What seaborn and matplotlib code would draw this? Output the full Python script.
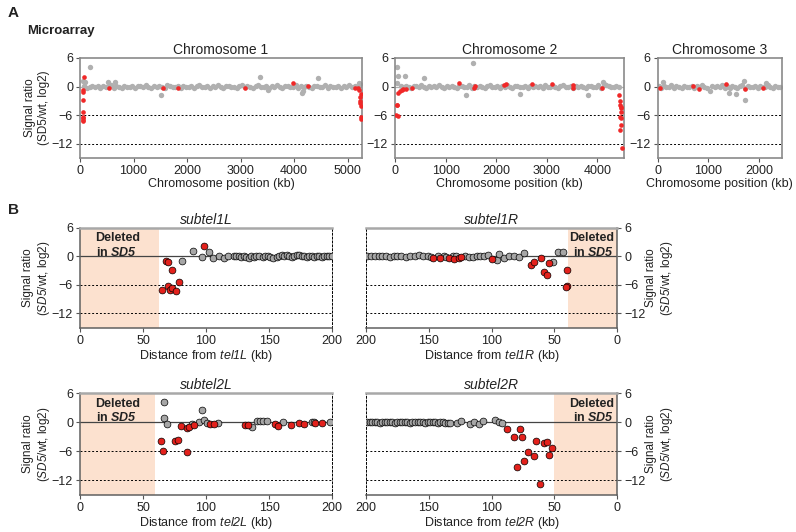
import numpy as np
import pandas as pd
import matplotlib
matplotlib.use("Agg")
import matplotlib.pyplot as plt
import seaborn as sns

# ---------------- data : panel A (microarray, kb / log2 ratio) ----------------
chr1_band_x = [80, 130, 180, 230, 280, 330, 380, 430, 480, 530,
               580, 630, 680, 730, 780, 830, 880, 930, 980, 1030,
               1080, 1130, 1180, 1230, 1280, 1330, 1380, 1430, 1480, 1530,
               1580, 1630, 1680, 1730, 1780, 1830, 1880, 1930, 1980, 2030,
               2080, 2130, 2180, 2230, 2280, 2330, 2380, 2430, 2480, 2530,
               2580, 2630, 2680, 2730, 2780, 2830, 2880, 2930, 2980, 3030,
               3080, 3130, 3180, 3230, 3280, 3330, 3380, 3430, 3480, 3530,
               3580, 3630, 3680, 3730, 3780, 3830, 3880, 3930, 3980, 4030,
               4080, 4130, 4180, 4230, 4280, 4330, 4380, 4430, 4480, 4530,
               4580, 4630, 4680, 4730, 4780, 4830, 4880, 4930, 4980, 5030,
               5080, 5130, 5180, 5230]
chr1_band_y = [0.1, -0.2, 0.0, 0.2, -0.1, 0.1, -0.3, 0.2, 0.0, -0.1,
               0.3, -0.2, 0.1, 0.0, -0.2, 0.2, -0.1, 0.0, 0.1, -0.3,
               0.2, 0.1, -0.1, 0.3, 0.0, -0.2, 0.1, -0.1, 0.2, 0.0,
               -0.2, 0.4, 0.1, -0.1, 0.0, 0.2, -0.3, 0.1, 0.0, -0.1,
               0.2, -0.2, 0.1, 0.3, -0.1, 0.0, 0.2, -0.2, 0.1, -0.1,
               0.3, 0.0, -0.2, 0.1, 0.2, -0.1, 0.0, -0.3, 0.1, 0.4,
               -0.1, 0.2, 0.0, -0.2, 0.1, 0.3, -0.1, 0.0, 0.2, -0.2,
               0.1, -0.1, 0.3, 0.0, -0.2, 0.1, 0.2, -0.1, 0.0, 0.3,
               -0.2, 0.1, -0.1, 0.2, 0.0, -0.3, 0.1, 0.2, -0.1, 0.0,
               0.3, -0.2, 0.1, 0.0, -0.1, 0.2, -0.2, 0.1, 0.0, 0.3,
               -0.1, 0.2, 0.0, 0.5]
chr1_out_x = [187, 65, 90, 517, 654, 1514, 3364, 3520, 4155, 4174, 4455, 5221]
chr1_out_y = [4.1, 1.2, 0.9, 1.0, 1.0, -1.7, 2.1, -0.8, -1.3, -1.0, 1.8, 0.8]
chr1_red_x = [55, 57, 56, 58, 55, 57, 58, 56, 81, 548, 1557, 1838, 3080, 3988, 4268,
              5146, 5190, 5221, 5246, 5230, 5240, 5235, 5250, 5245, 5255]
chr1_red_y = [-0.8, -1.2, -2.9, -5.3, -6.3, -6.7, -7.0, -7.3, 2.1, -0.4, -0.3, -0.3, -0.2, 0.8, 0.2,
              -0.4, -0.4, -0.8, -1.6, -2.2, -3.0, -3.5, -4.0, -6.3, -6.8]

chr2_band_x = [120, 170, 220, 270, 320, 370, 420, 470, 520, 570,
               620, 670, 720, 770, 820, 870, 920, 970, 1020, 1070,
               1120, 1170, 1220, 1270, 1320, 1370, 1420, 1470, 1520, 1570,
               1620, 1670, 1720, 1770, 1820, 1870, 1920, 1970, 2020, 2070,
               2120, 2170, 2220, 2270, 2320, 2370, 2420, 2470, 2520, 2570,
               2620, 2670, 2720, 2770, 2820, 2870, 2920, 2970, 3020, 3070,
               3120, 3170, 3220, 3270, 3320, 3370, 3420, 3470, 3520, 3570,
               3620, 3670, 3720, 3770, 3820, 3870, 3920, 3970, 4020, 4070,
               4120, 4170, 4220, 4270, 4320, 4370, 4420]
chr2_band_y = [0.2, -0.1, 0.1, 0.0, -0.2, 0.2, 0.1, -0.1, 0.3, 0.0,
               -0.2, 0.1, 0.0, 0.2, -0.1, 0.3, 0.0, -0.2, 0.1, -0.1,
               0.2, 0.0, -0.3, 0.1, 0.2, -0.1, 0.0, 0.3, -0.2, 0.1,
               -0.1, 0.2, 0.0, -0.2, 0.1, 0.3, -0.1, 0.0, 0.2, -0.2,
               0.1, -0.1, 0.3, 0.0, -0.2, 0.1, 0.2, -0.1, 0.0, 0.2,
               -0.3, 0.1, 0.0, 0.2, -0.1, 0.1, -0.2, 0.3, 0.0, -0.1,
               0.2, 0.0, -0.2, 0.1, 0.3, -0.1, 0.0, 0.2, -0.2, 0.1,
               -0.1, 0.2, 0.0, -0.3, 0.1, 0.2, -0.1, 0.0, 0.3, -0.2,
               0.6, 0.4, 0.1, -0.1, 0.0, 0.2, -0.1]
chr2_out_x = [46, 66, 198, 580, 1535, 1397, 2470, 3820, 4104, 46]
chr2_out_y = [4.1, 2.3, 2.3, 1.7, 5.0, -1.7, -1.5, -1.7, 1.0, 0.7]
chr2_red_x = [40, 46, 20, 60, 66, 99, 132, 165, 217, 329, 1265, 1560, 1580, 2150, 2200,
              2700, 3097, 3525, 3525, 4084, 4433, 4446, 4452, 4470, 4460, 4475, 4440,
              4468, 4458, 4445, 4480]
chr2_red_y = [-3.8, -3.8, -6.0, -6.1, -1.3, -1.0, -0.7, -0.5, -0.5, -0.3, 0.7, -0.3, 0.2, 0.3, 0.5,
              0.5, 0.6, 0.3, -0.4, -0.2, -1.7, -3.1, -3.8, -4.3, -4.5, -5.4, -6.3,
              -6.6, -8.1, -9.2, -12.8]

chr3_band_x = [20, 70, 120, 170, 220, 270, 320, 370, 420, 470,
               520, 570, 620, 670, 720, 770, 820, 870, 920, 970,
               1070, 1120, 1170, 1220, 1270, 1320, 1370, 1420, 1470, 1520,
               1570, 1620, 1670, 1720, 1770, 1820, 1870, 1920, 1970, 2020,
               2070, 2120, 2170, 2220, 2270, 2320, 2370, 2420]
chr3_band_y = [0.1, -0.2, 0.2, 0.0, -0.1, 0.3, -0.2, 0.1, 0.0, -0.3,
               0.2, -0.1, 0.0, 0.2, -0.2, 0.1, -0.1, 0.3, 0.0, -0.2,
               0.1, -0.1, 0.2, 0.0, 0.3, -0.2, 0.1, -0.3, 0.2, 0.0,
               -0.4, 0.1, 0.4, -0.3, 0.2, -0.1, 0.0, 0.1, -0.2, 0.2,
               0.0, -0.1, 0.3, 0.0, -0.2, 0.1, 0.0, -0.1]
chr3_out_x = [111, 1692, 1712, 1396, 1541, 1034, 2140]
chr3_out_y = [1.0, 1.2, -2.8, -1.3, -1.5, -1.0, 0.8]
chr3_red_x = [45, 704, 822, 1344, 1725, 2068]
chr3_red_y = [-0.3, 0.2, -0.5, 0.5, -0.5, -0.3]

# ---------------- data : panel B (subtelomeres, kb from telomere) ----------------
sub1L_gray_x = [80.7, 90, 96.6, 102, 105.8, 110.2, 114.1, 117.8,
                122, 124, 126, 128, 130, 132, 134, 136, 138, 140,
                142, 145, 147, 149, 151, 153, 156, 158, 160, 162,
                164, 166, 168, 170, 172, 174, 176, 178, 180, 182,
                184, 186, 188, 190, 192, 194, 196, 198, 200]
sub1L_gray_y = [-1.0, 1.2, -0.1, 0.9, -0.3, 0.0, -0.3, 0.0,
                0.1, 0.0, 0.0, -0.2, 0.0, -0.1, -0.3, 0.0, -0.1, 0.0,
                0.0, -0.2, 0.0, 0.0, -0.1, -0.3, -0.2, 0.0, 0.3, 0.1,
                0.2, 0.0, -0.2, 0.1, 0.3, 0.2, 0.0, 0.1, -0.1, 0.0,
                0.1, -0.1, 0.0, 0.0, -0.1, 0.0, 0.0, 0.1, 0.0]
sub1L_red_x = [65.3, 68.5, 69.6, 70.1, 71.4, 72.8, 73.3, 76.2, 78.6, 98.4]
sub1L_red_y = [-7.0, -1.0, -6.3, -1.3, -7.0, -2.8, -6.6, -7.2, -5.3, 2.1]

sub1R_gray_x = [199, 196, 193, 190, 187, 184, 181, 178, 175, 172,
                168, 165, 161, 158, 155, 151, 148, 143, 138, 136,
                131, 128, 121, 118, 115, 112, 109, 106, 103, 96,
                94, 90, 86, 82, 78.2, 74.5, 50.9, 47.5, 43.5]
sub1R_gray_y = [0.0, 0.1, 0.0, 0.0, 0.1, 0.0, -0.1, 0.0, 0.1, 0.0,
                -0.1, 0.0, 0.0, 0.2, 0.1, 0.0, -0.1, 0.0, 0.1, -0.1,
                0.0, 0.1, 0.0, -0.1, -0.1, 0.0, 0.0, 0.1, 0.3, -0.8,
                0.4, -0.3, 0.1, 0.1, -0.2, 0.6, -1.3, 1.0, 1.0]
sub1R_red_x = [146.4, 141, 134, 129.6, 126, 124.4, 100, 68.7, 66.3, 61, 58.3, 56.2, 54.1,
               40.3, 40.3, 40.5]
sub1R_red_y = [-0.3, -0.3, -0.3, -0.6, -0.4, -0.2, -0.5, -1.8, -1.2, -0.4, -3.3, -3.9, -1.4,
               -2.8, -6.2, -6.5]

sub2L_gray_x = [66.7, 66.7, 68.8, 88.6, 94.7, 96.6, 98.4, 100.5, 109.8, 136.8,
                140.2, 142.9, 145.5, 148.2, 160.8, 183.9, 186, 198.4]
sub2L_gray_y = [4.2, 0.9, -0.3, -0.3, 0.1, 2.4, 0.5, -0.1, -0.2, -1.0,
                0.2, 0.2, 0.2, 0.2, 0.0, 0.0, 0.0, 0.0]
sub2L_red_x = [64, 65.6, 75.4, 78, 79.9, 84.7, 84.7, 86.3, 90.7, 103.2, 106.6,
               131, 133, 154.8, 156.9, 167.2, 173.8, 177.8, 186.5, 192.3]
sub2L_red_y = [-3.8, -6.0, -3.9, -3.6, -0.8, -1.3, -6.2, -1.0, -0.6, -0.3, -0.4,
               -0.6, -0.6, -0.4, -0.7, -0.6, -0.2, -0.4, -0.2, -0.1]

sub2R_gray_x = [199, 197, 195, 193, 191, 189, 187, 185, 183, 181,
                179, 177, 175, 173, 171, 169, 167, 165, 163, 161,
                159, 157, 155, 153, 151, 149, 147, 145, 143, 141,
                139, 137, 135, 133, 127.8, 124.4, 117.2, 113.8, 110, 106.6,
                97.3, 94.1, 92]
sub2R_gray_y = [0.0, 0.0, 0.1, 0.0, 0.0, -0.1, 0.0, 0.1, 0.0, 0.0,
                0.0, -0.1, 0.0, 0.0, 0.1, 0.0, 0.0, -0.1, 0.0, 0.0,
                0.1, 0.0, 0.0, -0.1, 0.0, 0.1, 0.0, 0.0, -0.1, 0.0,
                0.0, -0.1, -0.2, -0.2, -0.1, 0.3, -0.3, 0.0, -0.3, 0.2,
                0.4, 0.1, -0.2]
sub2R_red_x = [87.5, 77.4, 82, 75.6, 64.7, 58.1, 56.2, 51.7, 70.8, 66.3, 54.4, 74, 80, 61.3]
sub2R_red_y = [-1.5, -1.5, -3.1, -3.0, -3.9, -4.3, -4.1, -5.4, -6.2, -6.9, -6.8, -8.1, -9.2, -12.8]

deleted_kb = {"1L": 62.4, "1R": 39.5, "2L": 59.5, "2R": 50.6}

# ---------------- style ----------------
sns.set_style("ticks")
plt.rcParams['font.family'] = ['Liberation Sans', 'DejaVu Sans']
# mathtext only used for italic pieces inside labels: rm is mapped to the italic face
# so digits (tel1L, SD5) stay italic too
plt.rcParams['mathtext.fontset'] = 'custom'
plt.rcParams['mathtext.rm'] = 'Liberation Sans:italic'
plt.rcParams['mathtext.it'] = 'Liberation Sans:italic'
plt.rcParams['mathtext.bf'] = 'Liberation Sans:italic:bold'
plt.rcParams['mathtext.bfit'] = 'Liberation Sans:italic:bold'

GREY_A, RED_A = '#b0b0b0', '#f02828'
GREY_B, RED_B = '#a6a6a6', '#e3211c'
PEACH = '#fce1cf'
TXT = '#222222'

W, H = 796, 532
fig = plt.figure(figsize=(W / 100, H / 100), dpi=100)


def rect(l, t, r, b):
    return [l / W, 1 - b / H, (r - l) / W, (b - t) / H]


def guides(ax, zero_col):
    ax.axhline(0, color=zero_col, lw=0.9, zorder=1)
    for h in (-6, -12):
        ax.axhline(h, color='black', lw=0.7, ls=(0, (2, 2)), zorder=1)


def style_ticks(ax):
    ax.tick_params(length=3, width=0.8, color='#555555', labelsize=9, pad=2, labelcolor=TXT)


def chrom(box, title, xmax, xticks, bx, by, ox, oy, rx, ry):
    ax = fig.add_axes(rect(*box))
    guides(ax, '#b0b0b0')
    sns.scatterplot(x=bx + ox, y=by + oy, ax=ax, color=GREY_A, s=15, linewidth=0, zorder=2)
    sns.scatterplot(x=rx, y=ry, ax=ax, color=RED_A, s=11, linewidth=0, zorder=3)
    ax.set_xlim(0, xmax)
    ax.set_ylim(-15, 6)
    ax.set_xticks(xticks)
    ax.set_yticks([6, 0, -6, -12])
    for sp in ax.spines.values():
        sp.set_visible(True)
        sp.set_color('#8a8a8a')
        sp.set_linewidth(1.2)
    style_ticks(ax)
    ax.set_title(title, fontsize=10, pad=3, color=TXT)
    ax.set_xlabel('Chromosome position (kb)', fontsize=9, labelpad=1, color=TXT)
    ax.set_ylabel('')
    return ax


chrom((80, 58, 362, 158), 'Chromosome 1', 5270, [0, 1000, 2000, 3000, 4000, 5000],
      chr1_band_x, chr1_band_y, chr1_out_x, chr1_out_y, chr1_red_x, chr1_red_y)
chrom((395, 58, 624, 158), 'Chromosome 2', 4525, [0, 1000, 2000, 3000, 4000],
      chr2_band_x, chr2_band_y, chr2_out_x, chr2_out_y, chr2_red_x, chr2_red_y)
chrom((657.7, 58, 782, 158), 'Chromosome 3', 2450, [0, 1000, 2000],
      chr3_band_x, chr3_band_y, chr3_out_x, chr3_out_y, chr3_red_x, chr3_red_y)


def subtel(box, key, gx, gy, rx, ry):
    side = key[-1]
    ax = fig.add_axes(rect(*box))
    ax.axvspan(0, deleted_kb[key], color=PEACH, lw=0, zorder=0)
    guides(ax, '#444444')
    sns.scatterplot(x=gx, y=gy, ax=ax, color=GREY_B, s=24, edgecolor='black', linewidth=0.5, zorder=3)
    sns.scatterplot(x=rx, y=ry, ax=ax, color=RED_B, s=24, edgecolor='black', linewidth=0.5, zorder=4)
    ax.set_ylim(-15, 6)
    ax.set_yticks([6, 0, -6, -12])
    ax.set_xticks([0, 50, 100, 150, 200])
    for sp in ax.spines.values():
        sp.set_visible(True)
        sp.set_color('#606060')
        sp.set_linewidth(1.1)
    ax.spines['top'].set_color('#a8a8a8')
    ax.spines['top'].set_linewidth(1.8)
    far = 'right' if side == 'L' else 'left'
    ax.spines[far].set_color('black')
    ax.spines[far].set_linewidth(0.7)
    ax.spines[far].set_linestyle((0, (2, 2)))
    txt = 'Deleted\nin $\\mathbf{SD5}$'
    if side == 'L':
        ax.set_xlim(0, 200)
        ax.text(0.062, 0.955, txt, transform=ax.transAxes, ha='left', va='top',
                fontsize=9, fontweight='bold', color=TXT, linespacing=1.15, zorder=5)
    else:
        ax.set_xlim(200, 0)
        ax.yaxis.tick_right()
        ax.text(0.988, 0.955, txt, transform=ax.transAxes, ha='right', va='top',
                multialignment='right', fontsize=9, fontweight='bold', color=TXT,
                linespacing=1.15, zorder=5)
    style_ticks(ax)
    name = key[0] + key[1]
    ax.set_title('subtel' + name, fontsize=10, pad=3, color=TXT, fontstyle='italic')
    ax.set_xlabel('Distance from $\\mathrm{tel%s}$ (kb)' % name, fontsize=9, labelpad=1, color=TXT)
    ax.set_ylabel('')
    return ax


subtel((80, 227.7, 332, 327.7), '1L', sub1L_gray_x, sub1L_gray_y, sub1L_red_x, sub1L_red_y)
subtel((366, 227.7, 617.3, 327.7), '1R', sub1R_gray_x, sub1R_gray_y, sub1R_red_x, sub1R_red_y)
subtel((80, 393, 332, 495), '2L', sub2L_gray_x, sub2L_gray_y, sub2L_red_x, sub2L_red_y)
subtel((366, 393, 617.3, 495), '2R', sub2R_gray_x, sub2R_gray_y, sub2R_red_x, sub2R_red_y)

# y labels, letters
lab_a = 'Signal ratio\n(SD5/wt, log2)'
lab_b = 'Signal ratio\n($\\mathrm{SD5}$/wt, log2)'
fig.text(37 / W, 1 - 108 / H, lab_a, rotation=90, ha='center', va='center', fontsize=8.5,
         color=TXT, linespacing=1.15)
for yc in (277.7, 444):
    fig.text(37 / W, 1 - yc / H, lab_b, rotation=90, ha='center', va='center', fontsize=8.5,
             color=TXT, linespacing=1.15)
    fig.text(660 / W, 1 - yc / H, lab_b, rotation=90, ha='center', va='center', fontsize=8.5,
             color=TXT, linespacing=1.15)

fig.text(8 / W, 1 - 13 / H, 'A', fontsize=11, fontweight='bold', ha='left', va='center', color=TXT)
fig.text(27 / W, 1 - 31 / H, 'Microarray', fontsize=9.5, fontweight='bold', ha='left', va='center', color=TXT)
fig.text(8 / W, 1 - 210 / H, 'B', fontsize=11, fontweight='bold', ha='left', va='center', color=TXT)

fig.savefig('out.png', dpi=100)
